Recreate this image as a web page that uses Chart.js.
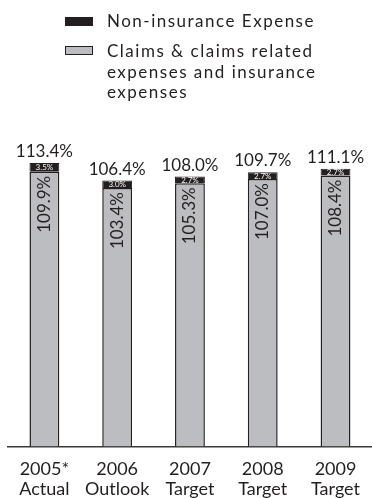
<!DOCTYPE html>
<html>
<head>
<meta charset="utf-8">
<script src="https://cdn.jsdelivr.net/npm/chart.js@4.4.0/dist/chart.umd.min.js"></script>
<style>
  html, body { margin: 0; background: #fff; font-family: Lato, sans-serif; color: #231f20; overflow: hidden; }
  #wrap { position: relative; width: 372px; height: 498px; overflow: hidden; }
  #chart { position: absolute; left: 0; top: 0; }
  .legend { position: absolute; left: 65px; font-size: 17px; line-height: 20.5px; letter-spacing: 1.5px; }
  .legend .sw { position: absolute; left: 0; width: 28px; height: 9px; box-sizing: border-box; }
  .legend .txt { position: absolute; left: 42px; white-space: nowrap; }
</style>
</head>
<body>
<div id="wrap">
  <canvas id="chart" width="372" height="514"></canvas>
  <div class="legend" style="top:11px">
    <div class="sw" style="top:6px;background:#231f20"></div>
    <div class="txt">Non-insurance Expense</div>
  </div>
  <div class="legend" style="top:41px">
    <div class="sw" style="top:5px;background:#bcbdc0;border:1.5px solid #231f20"></div>
    <div class="txt">Claims &amp; claims related<br>expenses and insurance<br>expenses</div>
  </div>
</div>
<script>
const years = ["2005*", "2006", "2007", "2008", "2009"];
const stages = ["Actual", "Outlook", "Target", "Target", "Target"];
const claims = [109.9, 103.4, 105.3, 107.0, 108.4];
const nonInsurance = [3.5, 3.0, 2.7, 2.7, 2.7];
const totals = [113.4, 106.4, 108.0, 109.7, 111.1];

const ink = "#231f20";

// labels on and inside the bars
const barLabels = {
  id: "barLabels",
  afterDatasetsDraw(chart) {
    const ctx = chart.ctx;
    const grey = chart.getDatasetMeta(0).data;
    const dark = chart.getDatasetMeta(1).data;
    ctx.save();
    grey.forEach((bar, i) => {
      const top = dark[i];
      // total above
      ctx.fillStyle = ink;
      ctx.font = "17px Lato";
      ctx.textAlign = "center";
      ctx.textBaseline = "alphabetic";
      ctx.fillText(totals[i].toFixed(1) + "%", top.x, top.y - 6);
      // small white label in the dark part
      ctx.fillStyle = "#fff";
      ctx.font = "8px Lato";
      ctx.textBaseline = "middle";
      ctx.fillText(nonInsurance[i].toFixed(1) + "%", top.x, (top.y + top.base) / 2 + 0.5);
      // rotated label in the grey part
      ctx.save();
      ctx.translate(bar.x, bar.y + 4);
      ctx.rotate(-Math.PI / 2);
      ctx.fillStyle = ink;
      ctx.font = "17px Lato";
      ctx.textAlign = "right";
      ctx.textBaseline = "middle";
      ctx.fillText(claims[i].toFixed(1) + "%", 0, 0);
      ctx.restore();
    });
    ctx.restore();
  }
};

new Chart(document.getElementById("chart"), {
  type: "bar",
  data: {
    labels: years.map((y, i) => [y, stages[i]]),
    datasets: [
      {
        label: "Claims & claims related expenses and insurance expenses",
        data: claims,
        backgroundColor: "#bcbdc0",
        borderColor: ink,
        borderWidth: 1.5,
        borderSkipped: "start",
      },
      {
        label: "Non-insurance Expense",
        data: nonInsurance,
        backgroundColor: ink,
        borderColor: ink,
        borderWidth: 1,
      },
    ],
  },
  options: {
    responsive: false,
    animation: false,
    datasets: { bar: { barPercentage: 0.41, categoryPercentage: 1 } },
    layout: { padding: { top: 134, left: 8, right: 0, bottom: 2 } },
    plugins: { legend: { display: false }, tooltip: { enabled: false } },
    scales: {
      x: {
        stacked: true,
        grid: { display: false, drawTicks: false },
        border: { display: true, color: "#3a3a3a", width: 1.5 },
        ticks: { color: ink, font: { family: "Lato", size: 18, lineHeight: 1.15 }, padding: 12, maxRotation: 0, autoSkip: false },
      },
      y: {
        stacked: true,
        display: false,
        min: 0,
        max: 125,
      },
    },
  },
  plugins: [barLabels],
});
</script>
</body>
</html>
